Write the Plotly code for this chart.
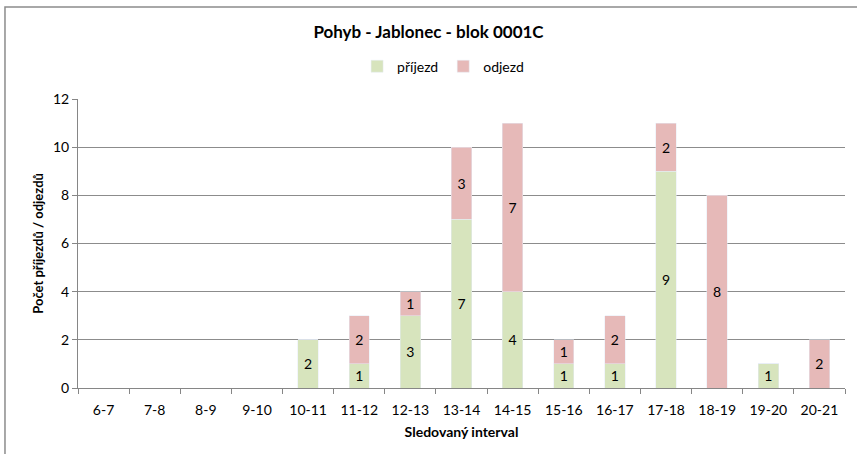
import plotly.graph_objects as go

intervaly = ["6-7", "7-8", "8-9", "9-10", "10-11", "11-12", "12-13", "13-14",
             "14-15", "15-16", "16-17", "17-18", "18-19", "19-20", "20-21"]
prijezd = [0, 0, 0, 0, 2, 1, 3, 7, 4, 1, 1, 9, 0, 1, 0]
odjezd = [0, 0, 0, 0, 0, 2, 1, 3, 7, 1, 2, 2, 8, 0, 2]

FONT = "Lato, 'Open Sans', sans-serif"


def labels(vals):
    return [str(v) if v else "" for v in vals]


fig = go.Figure()
fig.add_trace(go.Bar(x=intervaly, y=prijezd, name="příjezd",
                     marker_color="#D7E4BD", text=labels(prijezd),
                     textposition="inside", insidetextanchor="middle",
                     textfont=dict(color="black", size=14)))
fig.add_trace(go.Bar(x=intervaly, y=odjezd, name="odjezd",
                     marker_color="#E6B9B8", text=labels(odjezd),
                     textposition="inside", insidetextanchor="middle",
                     textfont=dict(color="black", size=14)))

# okraj grafu (Excel)
fig.add_shape(type="rect", xref="paper", yref="paper",
              x0=-0.0952, x1=1.03, y0=-0.35, y1=1.318,
              line=dict(color="#8c8c8c", width=1.5), layer="below")

fig.update_layout(
    barmode="stack",
    bargap=0.6,
    width=857, height=454,
    margin=dict(l=78, r=12, t=99, b=66),
    paper_bgcolor="white", plot_bgcolor="white",
    font=dict(family=FONT, color="black", size=14),
    title=dict(text="<b>Pohyb - Jablonec - blok 0001C</b>", x=0.5, xanchor="center",
               y=0.93, yanchor="middle", font=dict(size=17)),
    legend=dict(orientation="h", x=0.476, xanchor="center", y=1.112, yanchor="middle",
                font=dict(size=14), itemwidth=30, traceorder="normal"),
    uniformtext=dict(minsize=14, mode="show"),
)
fig.update_xaxes(
    type="category",
    showline=True, linecolor="#868686", linewidth=1,
    ticks="outside", tickson="boundaries", ticklen=5, tickcolor="#868686",
    ticklabelstandoff=9,
    title=dict(text="<b>Sledovaný interval</b>", standoff=10, font=dict(size=14)),
)
fig.update_yaxes(
    range=[0, 12], dtick=2, showgrid=True, gridcolor="#8c8c8c", gridwidth=1,
    showline=True, linecolor="#868686", ticks="outside", ticklen=5, tickcolor="#868686",
    zeroline=False,
    title=dict(text="<b>Počet příjezdů / odjezdů</b>", standoff=6, font=dict(size=13)),
)

# bez okraje stránky, aby graf začínal v rohu okna
fig.write_html("out.html", config={"displayModeBar": False},
               post_script="document.body.style.margin='0';")
